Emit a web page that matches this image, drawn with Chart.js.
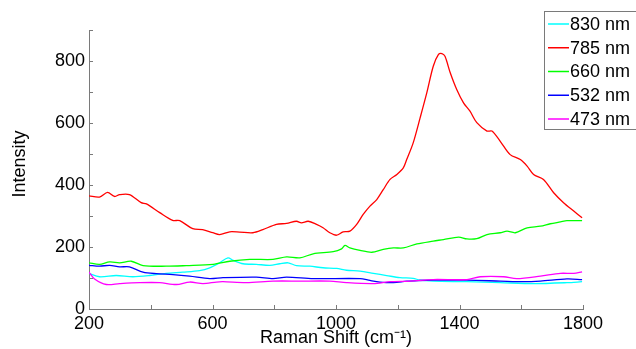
<!DOCTYPE html>
<html>
<head>
<meta charset="utf-8">
<script src="https://cdn.jsdelivr.net/npm/chart.js@4"></script>
<style>
  html, body { margin: 0; padding: 0; background: #fff; }
  #wrap { width: 636px; height: 349px; }
</style>
</head>
<body>
<div id="wrap"><canvas id="raman-chart"></canvas></div>
<script>
// Raman spectra, one pair of arrays per laser line
const seriesLabels = ['830 nm', '785 nm', '660 nm', '532 nm', '473 nm'];
const seriesColors = ['#00ffff', '#ff0000', '#00ff00', '#0000ff', '#ff00ff'];

const shift830 = [200, 234, 288, 342, 396, 450, 504, 558, 591, 623, 650, 667, 699, 742, 786, 818, 845, 872, 915, 958, 1002, 1034, 1078, 1121, 1164, 1207, 1250, 1272, 1315, 1424, 1532, 1640, 1748, 1797];
const int830 = [115, 104, 108, 104, 108, 115, 119, 124, 133, 149, 165, 157, 146, 144, 141, 146, 149, 140, 138, 133, 131, 125, 122, 115, 108, 101, 99, 93, 90, 88, 85, 82, 85, 88];

const shift785 = [200, 234, 260, 283, 299, 331, 369, 386, 429, 471, 494, 536, 568, 601, 623, 656, 688, 731, 763, 807, 840, 872, 888, 910, 937, 958, 980, 1002, 1023, 1045, 1067, 1088, 1110, 1132, 1153, 1175, 1197, 1218, 1229, 1250, 1272, 1294, 1315, 1332, 1343, 1353, 1370, 1391, 1413, 1434, 1456, 1489, 1505, 1532, 1564, 1597, 1619, 1640, 1672, 1705, 1737, 1770, 1797];
const int785 = [365, 361, 376, 363, 369, 369, 343, 339, 311, 286, 285, 259, 256, 246, 240, 249, 248, 246, 256, 273, 276, 283, 278, 283, 273, 262, 246, 238, 249, 251, 273, 305, 332, 353, 385, 418, 434, 455, 482, 536, 615, 697, 783, 821, 824, 815, 762, 708, 665, 638, 601, 574, 574, 541, 498, 482, 461, 434, 418, 375, 343, 316, 294];

const shift660 = [200, 234, 267, 299, 337, 375, 450, 515, 602, 656, 721, 796, 840, 883, 926, 991, 1018, 1029, 1045, 1078, 1116, 1153, 1186, 1218, 1262, 1315, 1348, 1397, 1424, 1456, 1489, 1532, 1554, 1581, 1619, 1662, 1694, 1727, 1748, 1797];
const int660 = [149, 144, 152, 149, 154, 140, 138, 140, 144, 154, 160, 160, 168, 165, 178, 185, 194, 205, 197, 189, 183, 192, 197, 197, 210, 219, 224, 232, 226, 227, 240, 246, 251, 246, 262, 267, 275, 281, 285, 285];

const shift532 = [200, 234, 267, 299, 331, 375, 418, 472, 526, 591, 634, 742, 796, 840, 926, 1078, 1110, 1142, 1186, 1229, 1272, 1315, 1424, 1532, 1607, 1662, 1748, 1797];
const int532 = [141, 138, 141, 136, 136, 119, 114, 111, 106, 98, 101, 103, 98, 103, 98, 98, 92, 87, 85, 90, 92, 93, 93, 90, 88, 90, 97, 95];

const shift473 = [200, 218, 256, 299, 364, 429, 483, 526, 569, 613, 634, 710, 796, 883, 980, 1034, 1121, 1175, 1240, 1315, 1424, 1467, 1543, 1586, 1662, 1727, 1770, 1797];
const int473 = [119, 97, 79, 82, 85, 85, 79, 87, 82, 87, 88, 85, 90, 90, 90, 85, 82, 88, 90, 95, 95, 104, 104, 98, 106, 115, 115, 120];

const xTickValues = [200, 600, 1000, 1400, 1800];
const yTickValues = [0, 200, 400, 600, 800];

const shifts = [shift830, shift785, shift660, shift532, shift473];
const intensities = [int830, int785, int660, int532, int473];

const FONT = 'Liberation Sans, Arial, Helvetica, sans-serif';
const AXIS_GRAY = '#7a7a7a';

// MATLAB-style inward tick marks
const inwardTicks = {
  id: 'inwardTicks',
  afterDatasetsDraw(chart) {
    const ctx = chart.ctx;
    const area = chart.chartArea;
    const xs = chart.scales.x, ys = chart.scales.y;
    ctx.save();
    ctx.strokeStyle = AXIS_GRAY;
    ctx.lineWidth = 1;
    ctx.beginPath();
    xs.ticks.forEach(t => {
      const px = Math.round(xs.getPixelForValue(t.value)) + 0.5;
      ctx.moveTo(px, area.bottom);
      ctx.lineTo(px, area.bottom - 4);
    });
    ys.ticks.forEach(t => {
      const py = Math.round(ys.getPixelForValue(t.value)) + 0.5;
      ctx.moveTo(area.left, py);
      ctx.lineTo(area.left + 4, py);
    });
    ctx.stroke();
    ctx.restore();
  }
};

// y title sits a little above the middle of the axis, as in the original
const yTitle = {
  id: 'yTitle',
  afterDraw(chart) {
    const ctx = chart.ctx;
    ctx.save();
    ctx.translate(20, 164);
    ctx.rotate(-Math.PI / 2);
    ctx.font = '18px ' + FONT;
    ctx.fillStyle = '#000';
    ctx.textAlign = 'center';
    ctx.textBaseline = 'middle';
    ctx.fillText('Intensity', 0, 0);
    ctx.restore();
  }
};

// boxed legend in the top-right corner
const boxLegend = {
  id: 'boxLegend',
  afterDraw(chart) {
    const ctx = chart.ctx;
    ctx.save();
    ctx.fillStyle = '#fff';
    ctx.fillRect(544.5, 11.5, 100, 118);
    ctx.strokeStyle = AXIS_GRAY;
    ctx.lineWidth = 1;
    ctx.strokeRect(544.5, 11.5, 100, 118);
    ctx.font = '18px ' + FONT;
    ctx.textBaseline = 'middle';
    ctx.fillStyle = '#000';
    seriesLabels.forEach((lab, i) => {
      const y = 24 + i * 23.75;
      ctx.strokeStyle = seriesColors[i];
      ctx.lineWidth = 1.5;
      ctx.beginPath();
      ctx.moveTo(548, y);
      ctx.lineTo(569, y);
      ctx.stroke();
      ctx.fillText(lab, 570, y + 1);
    });
    ctx.restore();
  }
};

document.addEventListener('DOMContentLoaded', function () {
  const canvas = document.getElementById('raman-chart');
  new Chart(canvas.getContext('2d'), {
    type: 'line',
    data: {
      datasets: seriesLabels.map((lab, i) => ({
        label: lab,
        data: shifts[i].map((x, j) => ({ x: x, y: intensities[i][j] })),
        borderColor: seriesColors[i],
        borderWidth: 1.3,
        pointRadius: 0,
        tension: 0.3,
        fill: false,
        order: seriesLabels.length - i
      }))
    },
    options: {
      responsive: true,
      maintainAspectRatio: false,
      animation: false,
      layout: { padding: { top: 30, right: 53, left: 0, bottom: 0 } },
      plugins: { legend: { display: false }, tooltip: { enabled: false } },
      scales: {
        x: {
          type: 'linear',
          min: 200,
          max: 1800,
          afterFit: s => { s.height = 40; },
          grid: { display: false, drawTicks: false },
          border: { display: true, color: AXIS_GRAY, width: 1 },
          ticks: {
            stepSize: 200,
            padding: 4,
            maxRotation: 0,
            autoSkip: false,
            color: '#000',
            font: { family: FONT, size: 18 },
            callback: v => xTickValues.includes(v) ? String(v) : ''
          },
          title: {
            display: true,
            text: 'Raman Shift (cm\u207B\u00B9)',
            color: '#000',
            font: { family: FONT, size: 18 },
            padding: { top: 0, bottom: 0 }
          }
        },
        y: {
          min: 0,
          max: 900,
          afterFit: s => { s.width = 89; },
          grid: { display: false, drawTicks: false },
          border: { display: true, color: AXIS_GRAY, width: 1 },
          ticks: {
            stepSize: 100,
            padding: 4,
            autoSkip: false,
            color: '#000',
            font: { family: FONT, size: 18 },
            callback: v => yTickValues.includes(v) ? String(v) : ''
          }
        }
      }
    },
    plugins: [inwardTicks, yTitle, boxLegend]
  });
});
</script>
</body>
</html>
